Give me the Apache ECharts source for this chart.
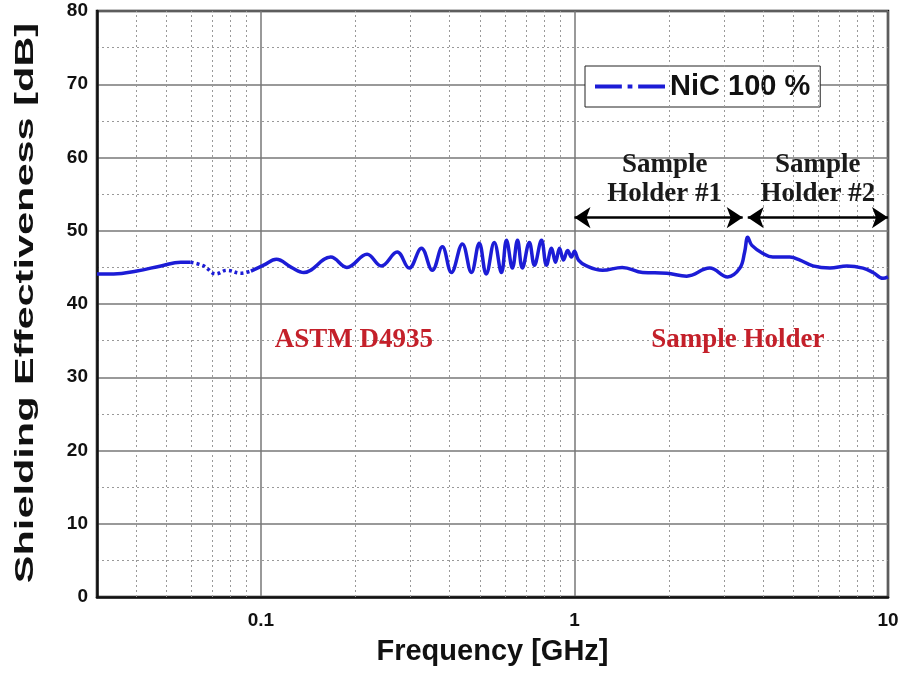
<!DOCTYPE html>
<html>
<head>
<meta charset="utf-8">
<script src="https://cdn.jsdelivr.net/npm/echarts@6/dist/echarts.min.js"></script>
<style>
html,body{margin:0;padding:0;background:#fff;}
#c{width:902px;height:675px;}
</style>
</head>
<body>
<div id="c"></div>
<script>
// ---- data ----
const freqGHz = [0.03, 0.0339, 0.0402, 0.048, 0.0555, 0.0597, 0.0657, 0.0718, 0.0778, 0.0863, 0.0929,
  0.102, 0.112, 0.125, 0.137, 0.167, 0.188, 0.218, 0.242, 0.272, 0.297, 0.325, 0.352, 0.379, 0.405,
  0.439, 0.469, 0.497, 0.523, 0.555, 0.585, 0.607, 0.634, 0.658, 0.682, 0.718, 0.745, 0.785, 0.814,
  0.845, 0.870, 0.896, 0.923, 0.951, 0.978, 1.0, 1.03, 1.092, 1.228, 1.42, 1.65, 1.97, 2.28, 2.70, 3.08,
  3.37, 3.49, 3.57, 3.68, 3.99, 4.29, 4.86, 5.24, 5.76, 6.53, 7.40, 8.32, 8.96, 9.64, 10];
const seDB = [44.1, 44.1, 44.5, 45.2, 45.7, 45.7, 45.2, 44.1, 44.6, 44.2, 44.5,
  45.3, 46.1, 45.0, 44.3, 46.4, 45.0, 46.8, 45.2, 47.1, 44.9, 47.6, 44.6, 47.8, 44.3,
  48.2, 44.3, 48.3, 44.1, 48.4, 44.3, 48.7, 44.9, 48.7, 44.9, 48.4, 45.3, 48.7, 45.3,
  47.6, 45.7, 47.6, 46.0, 47.3, 46.4, 47.2, 46.0, 45.2, 44.6, 45.0, 44.3, 44.2, 43.8, 44.9, 43.7,
  44.9, 47.1, 49.1, 48.0, 46.9, 46.4, 46.4, 46.0, 45.2, 44.9, 45.2, 44.9, 44.3, 43.5, 43.7];
const dottedStart = 5, dottedEnd = 10;   // index range drawn dotted in the reference
const xTickLabels = ['0.1', '1', '10'];
const yTicks = [0, 10, 20, 30, 40, 50, 60, 70, 80];
const minorFreqs = [0.04,0.05,0.06,0.07,0.08,0.09,0.2,0.3,0.4,0.5,0.6,0.7,0.8,0.9,2,3,4,5,6,7,8,9];
const legendName = 'NiC 100 %';
const holderArrows = [[1.0, 3.44, 51.8], [3.57, 10, 51.8]];
const annotations = [
  {text: 'Sample\nHolder #1', f: 1.94, v: 57.0, color: '#1a1a1a'},
  {text: 'Sample\nHolder #2', f: 5.97, v: 57.0, color: '#1a1a1a'},
  {text: 'ASTM D4935', f: 0.198, v: 35.1, color: '#c4202a'},
  {text: 'Sample Holder', f: 3.32, v: 35.1, color: '#c4202a'}
];

const blue = '#1c1cd6';
const pts = freqGHz.map((f, i) => [f, seDB[i]]);
const segA = pts.slice(0, dottedStart + 1);
const segDot = pts.slice(dottedStart, dottedEnd + 1);
const segB = pts.slice(dottedEnd);

const chart = echarts.init(document.getElementById('c'), null, {renderer: 'canvas'});
chart.setOption({
  animation: false,
  backgroundColor: '#fff',
  grid: {left: 97, right: 14, top: 11, bottom: 78, show: true, borderColor: '#111', borderWidth: 2.5, backgroundColor: 'transparent'},
  legend: {
    data: [{name: legendName, icon: 'path://M0,0h28v4H0z M34,0h5v4h-5z M45,0h28v4H45z'}],
    left: 585, top: 66, padding: [6, 10, 6, 10],
    borderColor: '#222', borderWidth: 1, backgroundColor: '#fff',
    itemWidth: 70, itemHeight: 4, itemGap: 4,
    textStyle: {fontFamily: 'Arial, Liberation Sans', fontWeight: 'bold', fontSize: 29, color: '#111'}
  },
  xAxis: {
    type: 'log', logBase: 10, min: 0.03, max: 10,
    axisLine: {show: true, lineStyle: {color: '#111', width: 2.5}},
    axisTick: {show: false},
    axisLabel: {
      margin: 14, fontFamily: 'Arial, Liberation Sans', fontWeight: 'bold', fontSize: 19, color: '#111',
      showMinLabel: false,
      formatter: v => { const s = String(+v.toPrecision(3)); return xTickLabels.includes(s) ? s : ''; }
    },
    splitLine: {show: true, lineStyle: {color: '#777', width: 1.5}},
    name: 'Frequency [GHz]', nameLocation: 'middle', nameGap: 40,
    nameTextStyle: {fontFamily: 'Arial, Liberation Sans', fontWeight: 'bold', fontSize: 29, color: '#111', verticalAlign: 'top'}
  },
  yAxis: {
    type: 'value', min: 0, max: 80, interval: 10,
    axisLine: {show: true, lineStyle: {color: '#111', width: 2.5}},
    axisTick: {show: false},
    minorTick: {show: false, splitNumber: 2},
    minorSplitLine: {show: true, lineStyle: {color: '#999', width: 1, type: [2, 3]}},
    axisLabel: {margin: 9, fontFamily: 'Arial, Liberation Sans', fontWeight: 'bold', fontSize: 19, color: '#111',
      formatter: v => yTicks.includes(v) ? String(v) : ''},
    splitLine: {show: true, lineStyle: {color: '#777', width: 1.5}}
  },
  graphic: [{
    type: 'text', x: 26, y: 303, rotation: Math.PI / 2, scaleX: 1.66, scaleY: 1,
    style: {text: 'Shielding Effectiveness [dB]', font: 'bold 25px Arial, "Liberation Sans"', fill: '#111',
      textAlign: 'center', textVerticalAlign: 'middle'}
  }],
  series: [
    {
      name: 'grid-minor', type: 'line', data: [], silent: true,
      markLine: {silent: true, symbol: ['none', 'none'], label: {show: false},
        lineStyle: {color: '#999', width: 1, type: [2, 3]},
        data: minorFreqs.map(f => ({xAxis: f}))}
    },
    {
      name: 'arrows', type: 'line', data: [], silent: true,
      markLine: {silent: true, symbol: ['arrow', 'arrow'], symbolSize: [16, 16], label: {show: false},
        lineStyle: {color: '#000', width: 2.5, type: 'solid'},
        data: holderArrows.map(a => [{coord: [a[0], a[2]]}, {coord: [a[1], a[2]]}])}
    },
    {
      name: 'texts', type: 'line', data: [], silent: true,
      markPoint: {silent: true, symbol: 'circle', symbolSize: 1, itemStyle: {color: 'rgba(0,0,0,0)'},
        data: annotations.map(a => ({coord: [a.f, a.v], value: a.text,
          label: {show: true, position: 'inside', formatter: a.text, color: a.color,
            fontFamily: '"Times New Roman", "Liberation Serif", serif', fontWeight: 'bold', fontSize: 27, lineHeight: 29, align: 'center'}}))}
    },
    {name: 'segA', type: 'line', data: segA, smooth: 0.4, showSymbol: false, lineStyle: {color: blue, width: 3.5}, z: 5},
    {name: 'segDot', type: 'line', data: segDot, smooth: 0.4, showSymbol: false, lineStyle: {color: blue, width: 3.5, type: [3, 3]}, z: 5},
    {name: 'segB', type: 'line', data: segB, smooth: 0.4, showSymbol: false, lineStyle: {color: blue, width: 3.5}, z: 5},
    {name: legendName, type: 'line', data: [], symbol: 'none', showSymbol: false, itemStyle: {color: blue},
      lineStyle: {color: blue, width: 3.5}}
  ]
});
</script>
</body>
</html>
